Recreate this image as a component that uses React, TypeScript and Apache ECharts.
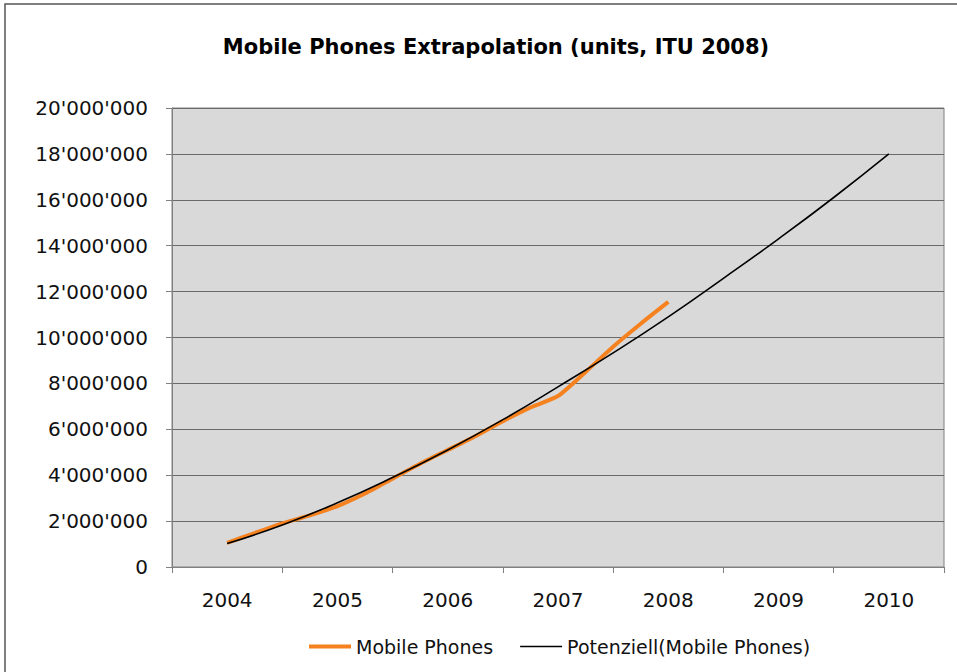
import React, { useEffect, useRef } from "react";
import * as echarts from "echarts";

const categories = ["2004", "2005", "2006", "2007", "2008", "2009", "2010"];

// Mobile Phones (orange) – time in years, value in units
const phoneTimes = [2004, 2004.25, 2004.5, 2004.75, 2005, 2005.25, 2005.5, 2005.75, 2006, 2006.25, 2006.5, 2006.75, 2007, 2007.25, 2007.5, 2007.75, 2008];
const phoneValues = [1050000, 1480000, 1900000, 2250000, 2650000, 3200000, 3850000, 4500000, 5100000, 5700000, 6350000, 6950000, 7450000, 8500000, 9600000, 10600000, 11550000];

// Potenziell (trend line, black)
const trendTimes = [2004, 2004.5, 2005, 2005.5, 2006, 2006.5, 2007, 2007.5, 2008, 2008.5, 2009, 2009.5, 2010];
const trendValues = [1020000, 1830000, 2800000, 3900000, 5100000, 6420000, 7850000, 9330000, 10900000, 12580000, 14300000, 16100000, 18000000];

const yTicks = { min: 0, max: 20000000, interval: 2000000 };

const fmt = (v: number) => String(v).replace(/\B(?=(\d{3})+(?!\d))/g, "'");

export default function App() {
  const ref = useRef<HTMLDivElement>(null);
  useEffect(() => {
    if (!ref.current) return;
    const chart = echarts.init(ref.current, undefined, { renderer: "svg" });
    const base = Number(categories[0]);
    chart.setOption({
      animation: false,
      backgroundColor: "#ffffff",
      textStyle: { fontFamily: "DejaVu Sans" },
      title: {
        text: "Mobile Phones Extrapolation (units, ITU 2008)",
        left: 491,
        textAlign: "center",
        top: 31,
        textStyle: { fontFamily: "DejaVu Sans", fontWeight: "bold", fontSize: 21, color: "#000" },
      },
      graphic: [
        {
          type: "rect",
          shape: { x: 5, y: 4, width: 1000, height: 700 },
          style: { fill: "none", stroke: "#555", lineWidth: 1.5 },
          silent: true,
        },
      ],
      legend: {
        left: 309,
        top: 637,
        padding: 0,
        itemWidth: 42,
        itemHeight: 4,
        itemGap: 27,
        textStyle: { fontFamily: "DejaVu Sans", fontSize: 19, color: "#111" },
        data: [
          { name: "Mobile Phones", icon: "path://M0 0H42V4H0Z" },
          { name: "Potenziell(Mobile Phones)", icon: "path://M0 0H42V1.6H0Z" },
        ],
      },
      grid: {
        left: 172,
        top: 108,
        width: 772,
        height: 459,
        show: true,
        backgroundColor: "#d9d9d9",
        borderColor: "#808080",
        borderWidth: 1,
      },
      xAxis: [
        {
          type: "category",
          data: categories,
          boundaryGap: true,
          axisLine: { lineStyle: { color: "#808080", width: 1 } },
          axisTick: { show: true, length: 6, lineStyle: { color: "#808080" } },
          axisLabel: { fontFamily: "DejaVu Sans", fontSize: 20, color: "#111", margin: 23 },
          splitLine: { show: false },
        },
        {
          type: "value",
          min: -0.5,
          max: 6.5,
          show: false,
          splitLine: { show: false },
        },
      ],
      yAxis: {
        type: "value",
        min: yTicks.min,
        max: yTicks.max,
        interval: yTicks.interval,
        axisLine: { show: true, onZero: false, lineStyle: { color: "#808080", width: 1 } },
        axisTick: { show: true, length: 6, lineStyle: { color: "#808080" } },
        axisLabel: { fontFamily: "DejaVu Sans", fontSize: 20, color: "#111", margin: 24, formatter: (v: number) => fmt(v) },
        splitLine: { show: true, lineStyle: { color: "#6a6a6a", width: 1.2 } },
      },
      series: [
        {
          name: "Mobile Phones",
          type: "line",
          xAxisIndex: 1,
          data: phoneTimes.map((t, i) => [t - base, phoneValues[i]]),
          symbol: "none",
          smooth: 0.2,
          lineStyle: { color: "#f5821f", width: 4 },
          itemStyle: { color: "#f5821f" },
          z: 2,
        },
        {
          name: "Potenziell(Mobile Phones)",
          type: "line",
          xAxisIndex: 1,
          data: trendTimes.map((t, i) => [t - base, trendValues[i]]),
          symbol: "none",
          smooth: true,
          lineStyle: { color: "#000000", width: 1.6 },
          itemStyle: { color: "#000000" },
          z: 3,
        },
      ],
    });
    return () => chart.dispose();
  }, []);
  return <div ref={ref} style={{ position: "fixed", left: 0, top: 0, width: 957, height: 672 }} />;
}
